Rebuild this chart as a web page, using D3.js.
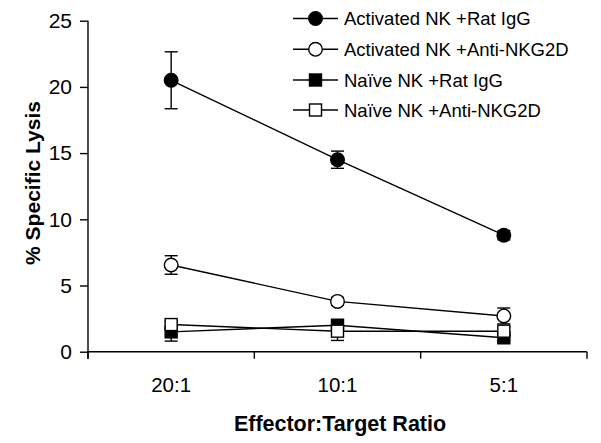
<!DOCTYPE html>
<html><head><meta charset="utf-8">
<script src="https://cdn.jsdelivr.net/npm/d3@7"></script>
<style>body{margin:0;background:#fff}svg{display:block;font-family:"Liberation Sans",Arial,sans-serif}</style>
</head><body><svg id="c" width="601" height="443"></svg>
<script>
const categories = ["20:1", "10:1", "5:1"];
const seriesNames = ["Activated NK +Rat IgG", "Activated NK +Anti-NKG2D", "Naïve NK +Rat IgG", "Naïve NK +Anti-NKG2D"];
const actRat = [20.5, 14.5, 8.8];
const actRatErr = [2.15, 0.65, 0.35];
const actAnti = [6.55, 3.8, 2.7];
const actAntiErr = [0.7, 0.3, 0.6];
const naiveRat = [1.5, 2.0, 1.05];
const naiveRatErr = [0.7, 0.3, 0.2];
const naiveAnti = [2.05, 1.55, 1.55];
const naiveAntiErr = [0.3, 0.7, 0.3];
const yTicks = [0, 5, 10, 15, 20, 25];
const xTitle = "Effector:Target Ratio";
const yTitle = "% Specific Lysis";

const series = [
  {name: seriesNames[0], v: actRat, e: actRatErr, shape: "circle", fill: "#000"},
  {name: seriesNames[1], v: actAnti, e: actAntiErr, shape: "circle", fill: "#fff"},
  {name: seriesNames[2], v: naiveRat, e: naiveRatErr, shape: "square", fill: "#000"},
  {name: seriesNames[3], v: naiveAnti, e: naiveAntiErr, shape: "square", fill: "#fff"}
];

const svg = d3.select("#c");
const L = 88, R = 587, T = 20.7, B = 351.7;
const xb = d3.scaleBand().domain(categories).range([L, R]);
const xc = c => xb(c) + xb.bandwidth() / 2;
const y = d3.scaleLinear().domain([0, 25]).range([B, T]);

// Y axis
const yAx = svg.append("g").attr("transform", `translate(${L},0)`)
  .call(d3.axisLeft(y).tickValues(yTicks).tickSize(8).tickPadding(8));
yAx.select(".domain").attr("d", `M0,${T}V${B + 7}`);
yAx.selectAll("path,line").attr("stroke", "#000").attr("stroke-width", 1.4);
yAx.selectAll("text").attr("font-size", 21).attr("fill", "#000").attr("font-family", "Liberation Sans, Arial");

// X axis
const xg = svg.append("g");
xg.append("line").attr("x1", L).attr("x2", R).attr("y1", B).attr("y2", B).attr("stroke", "#000").attr("stroke-width", 1.4);
const bounds = categories.map(c => xb(c)).concat([R]);
xg.selectAll("line.t").data(bounds).join("line").attr("class", "t")
  .attr("x1", d => d).attr("x2", d => d).attr("y1", B).attr("y2", B + 7)
  .attr("stroke", "#000").attr("stroke-width", 1.4);
xg.selectAll("text").data(categories).join("text")
  .attr("x", d => xc(d)).attr("y", 392).attr("text-anchor", "middle")
  .attr("font-size", 20.5).text(d => d);

svg.append("text").attr("x", 340).attr("y", 431).attr("text-anchor", "middle")
  .attr("font-size", 21.5).attr("font-weight", "bold").text(xTitle);
svg.append("text").attr("transform", "translate(40,183) rotate(-90)").attr("text-anchor", "middle")
  .attr("font-size", 21).attr("font-weight", "bold").text(yTitle);

const line = d3.line().x((d, i) => xc(categories[i])).y(d => y(d));
const plot = svg.append("g");

function marker(g, s, cx, cy) {
  if (s.shape === "circle") {
    g.append("circle").attr("cx", cx).attr("cy", cy).attr("r", 6.8)
      .attr("fill", s.fill).attr("stroke", "#000").attr("stroke-width", 1.4);
  } else {
    g.append("rect").attr("x", cx - 6).attr("y", cy - 6).attr("width", 12).attr("height", 12)
      .attr("fill", s.fill).attr("stroke", "#000").attr("stroke-width", 1.4);
  }
}

series.forEach(s => {
  const g = plot.append("g");
  s.v.forEach((v, i) => {
    const cx = xc(categories[i]);
    g.append("line").attr("x1", cx).attr("x2", cx).attr("y1", y(v + s.e[i])).attr("y2", y(v - s.e[i]))
      .attr("stroke", "#000").attr("stroke-width", 1.4);
    [v + s.e[i], v - s.e[i]].forEach(w => {
      g.append("line").attr("x1", cx - 6.5).attr("x2", cx + 6.5).attr("y1", y(w)).attr("y2", y(w))
        .attr("stroke", "#000").attr("stroke-width", 1.4);
    });
  });
  g.append("path").attr("d", line(s.v)).attr("fill", "none").attr("stroke", "#000").attr("stroke-width", 1.4);
  s.v.forEach((v, i) => marker(g, s, xc(categories[i]), y(v)));
});

// Legend
const legY = [18.5, 49.3, 80, 110];
series.forEach((s, i) => {
  const g = svg.append("g");
  g.append("line").attr("x1", 293).attr("x2", 338).attr("y1", legY[i]).attr("y2", legY[i])
    .attr("stroke", "#000").attr("stroke-width", 1.4);
  marker(g, s, 315.5, legY[i]);
  g.append("text").attr("x", 344).attr("y", legY[i] + 6.8).attr("font-size", 18.5).text(s.name);
});
</script></body></html>
